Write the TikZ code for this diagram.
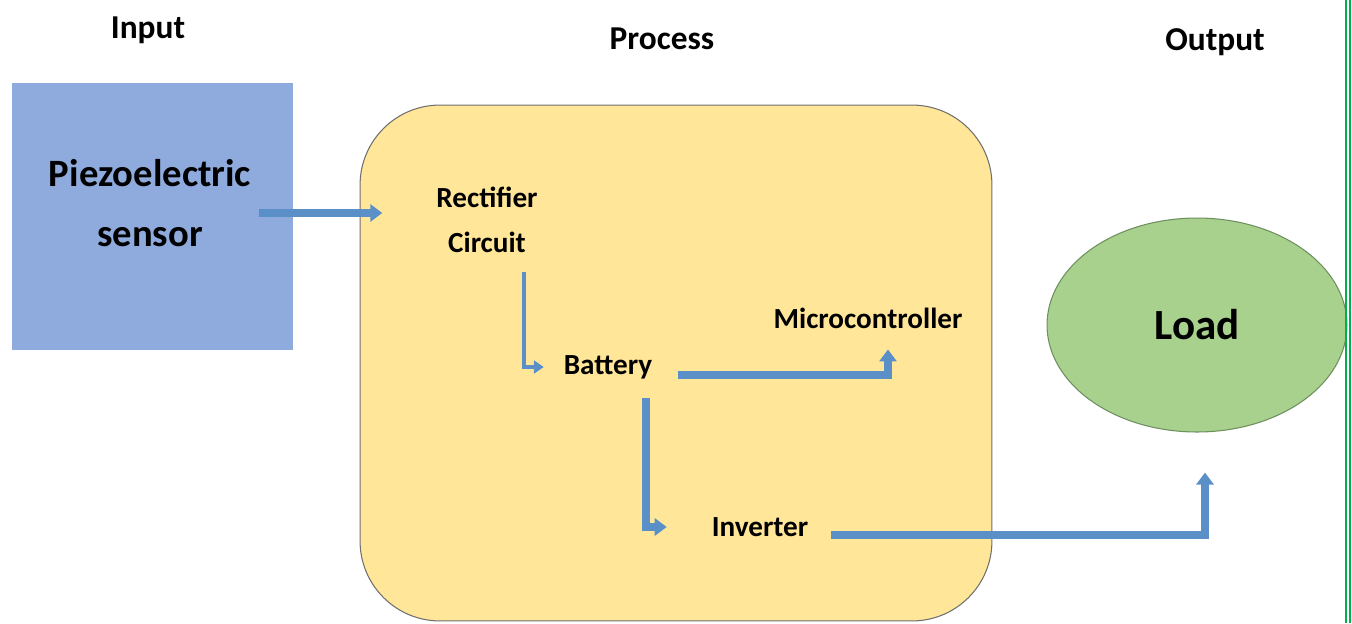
\documentclass[tikz,border=0pt]{standalone}
\usepackage{fontspec}
\setmainfont{Carlito}
\usepackage{tikz}
\usetikzlibrary{arrows.meta,positioning,shapes.geometric}
\definecolor{cPiezo}{HTML}{8FAADC}
\definecolor{cProc}{HTML}{FFE699}
\definecolor{cLoad}{HTML}{A9D18E}
\definecolor{cArrow}{HTML}{5A8FC8}
\definecolor{cEdge}{HTML}{6F6F6F}
\definecolor{cLoadEdge}{HTML}{6E8F5E}
\definecolor{cFrame}{HTML}{00B050}
\tikzset{
  head/.style={font=\fontsize{19}{23}\selectfont\bfseries,text=black},
  part/.style={font=\fontsize{16.6}{25.5}\selectfont\bfseries,text=black,align=center,inner sep=1pt},
  piezobox/.style={draw=none,fill=cPiezo,minimum width=5.62cm,minimum height=5.34cm,inner sep=0pt},
  procbox/.style={draw=cEdge,fill=cProc,line width=0.6pt,rounded corners=1.6cm,minimum width=12.64cm,minimum height=10.32cm,inner sep=0pt},
  loadell/.style={ellipse,draw=cLoadEdge,fill=cLoad,line width=0.6pt,minimum width=6cm,minimum height=4.28cm,inner sep=0pt,
    font=\fontsize{24.5}{29}\selectfont\bfseries},
  flowarr/.style={-{Triangle[length=0.24cm,width=0.34cm]},line width=4.3pt,color=cArrow},
  thinarr/.style={-{Triangle[length=0.2cm,width=0.26cm]},line width=2.2pt,color=cArrow},
}
\begin{document}
\begin{tikzpicture}[x=0.02cm,y=-0.02cm]
    \useasboundingbox (0,0) rectangle (1352,623);
    % column headings
    \node[head] (input)   at (148,30)  {Input};
    \node[head] (process) at (662,39)  {Process};
    \node[head] (output)  at (1215,42) {Output};
    % input, process and output shapes
    \node[piezobox] (piezo) at (152.5,216.5) {};
    \node[font=\fontsize{22}{34}\selectfont\bfseries,align=center,inner sep=1pt] (piezolbl) at (150,203) {Piezoelectric\\sensor};
    \node[procbox] (proc) at (676,363) {};
    \node[loadell] (load) at (1197,325) {Load};
    % blocks inside the process box
    \node[part] (rect)  at (487,220) {Rectifier\\Circuit};
    \node[part] (bat)   at (608,367) {Battery};
    \node[part] (micro) at (868,318) {Microcontroller};
    \node[part] (inv)   at (760,527) {Inverter};
    % connectors
    \draw[flowarr] ([shift={(6,10)}]piezolbl.east) -- ([shift={(-52,-7)}]rect.west);
    \draw[thinarr] ([shift={(37,17)}]rect.south) |- ([xshift=-0.36cm]bat.west);
    \draw[flowarr] ([shift={(24,8)}]bat.east) -| ([shift={(20,19)}]micro.south);
    \draw[flowarr] ([shift={(38,17)}]bat.south) |- ([xshift=-0.86cm]inv.west);
    \draw[flowarr] ([shift={(21,8)}]inv.east) -| ([shift={(8,40)}]load.south);
    % frame line at the right
    \draw[cFrame,line width=1.2pt] (1346,0) -- (1346,623);
    \draw[cFrame,line width=1.2pt] (1350,0) -- (1350,623);
  \end{tikzpicture}
\end{document}
